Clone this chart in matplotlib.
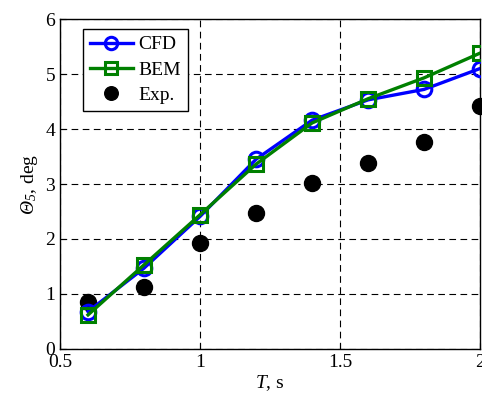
import matplotlib
matplotlib.use('Agg')
import matplotlib.pyplot as plt

plt.rcParams['font.family'] = ['Liberation Serif', 'DejaVu Serif']
plt.rcParams['mathtext.fontset'] = 'custom'
plt.rcParams['mathtext.rm'] = 'Liberation Serif:italic'
plt.rcParams['mathtext.it'] = 'Liberation Serif:italic'

T = [0.6, 0.8, 1.0, 1.2, 1.4, 1.6, 1.8, 2.0]
cfd = [0.68, 1.47, 2.41, 3.45, 4.16, 4.53, 4.72, 5.10]
bem = [0.62, 1.53, 2.44, 3.36, 4.11, 4.55, 4.93, 5.38]
exp = [0.85, 1.12, 1.93, 2.47, 3.02, 3.39, 3.77, 4.41]

fig = plt.figure(figsize=(4.82, 3.96), dpi=100)
ax = fig.add_axes([0.1245, 0.1187, 0.8715, 0.8333])

ax.plot(T, cfd, '-o', color='blue', lw=2.4, ms=10.5, mfc='none', mew=2.2, label='CFD', zorder=3)
ax.plot(T, bem, '-s', color='green', lw=2.4, ms=10, mfc='none', mew=2.2, label='BEM', zorder=4)
ax.plot(T, exp, 'o', color='black', ms=11.5, label='Exp.', zorder=2, clip_on=False)

ax.set_xlim(0.5, 2)
ax.set_ylim(0, 6)
ax.set_xticks([0.5, 1, 1.5, 2])
ax.set_xticklabels(['0.5', '1', '1.5', '2'])
ax.set_yticks(range(7))
ax.grid(True, color='black', linestyle=(0, (6, 4)), lw=0.8)
ax.tick_params(direction='in', labelsize=14, length=4)
for s in ax.spines.values():
    s.set_linewidth(1.0)

ax.set_xlabel('$T$, s', fontsize=14, labelpad=2)
ax.set_ylabel(r'$\Theta_5$, deg', fontsize=14, labelpad=4)

leg = ax.legend(loc='upper left', bbox_to_anchor=(0.055, 0.97), borderaxespad=0, fontsize=14,
                fancybox=False, edgecolor='black', framealpha=1, handlelength=2.2, borderpad=0.35,
                labelspacing=0.4, handletextpad=0.3, markerscale=0.85)
leg.get_frame().set_linewidth(1.0)

fig.savefig('out.png', dpi=100)
